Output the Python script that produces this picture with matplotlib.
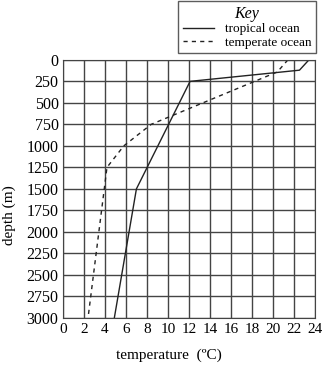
import matplotlib
matplotlib.use('Agg')
import matplotlib.pyplot as plt

# readings from the chart (temperature in degC, depth in m)
tropical_temp = [23.4, 22.5, 12.1, 7.0, 4.9]
tropical_depth = [0, 120, 250, 1500, 3000]
temperate_temp = [21.4, 20.4, 8.4, 5.8, 4.2, 2.4]
temperate_depth = [0, 140, 750, 1000, 1250, 3000]

x_ticks = list(range(0, 25, 2))
y_ticks = list(range(0, 3001, 250))

plt.rcParams['font.family'] = ['Liberation Serif', 'DejaVu Serif']

fig = plt.figure(figsize=(3.22, 3.65), dpi=100)
ax = fig.add_axes([0.195, 0.129, 0.784, 0.707])

ax.plot(tropical_temp, tropical_depth, color='#222222', lw=1.0, ls='-',
        label='tropical ocean')
ax.plot(temperate_temp, temperate_depth, color='#222222', lw=1.0,
        ls=(0, (3, 3)), label='temperate ocean')

ax.set_xlim(0, 24)
ax.set_ylim(3000, 0)
ax.set_xticks(x_ticks)
ax.set_yticks(y_ticks)
ax.grid(True, color='#444444', lw=1.0)
ax.set_axisbelow(True)
for s in ax.spines.values():
    s.set_color('#444444')
ax.tick_params(axis='y', length=0, labelsize=11.5, pad=3)
ax.tick_params(axis='x', length=0, labelsize=11, pad=4)

ax.set_xlabel('temperature  (\u00baC)', fontsize=11)
ax.xaxis.set_label_coords(0.42, -0.12)
ax.set_ylabel('depth (m)', fontsize=11)
ax.yaxis.set_label_coords(-0.185, 0.40)

leg = fig.legend(loc='upper right', bbox_to_anchor=(316 / 322, 1 - 1 / 365),
                 borderaxespad=0,
                 title='Key', fontsize=9.5, title_fontsize=11.5,
                 frameon=True, fancybox=False, edgecolor='#333333',
                 handlelength=2.4, borderpad=0.35, labelspacing=0.1,
                 handletextpad=0.8)
leg.get_title().set_style('italic')
leg.get_frame().set_linewidth(1.0)

fig.savefig('out.png', dpi=100)
